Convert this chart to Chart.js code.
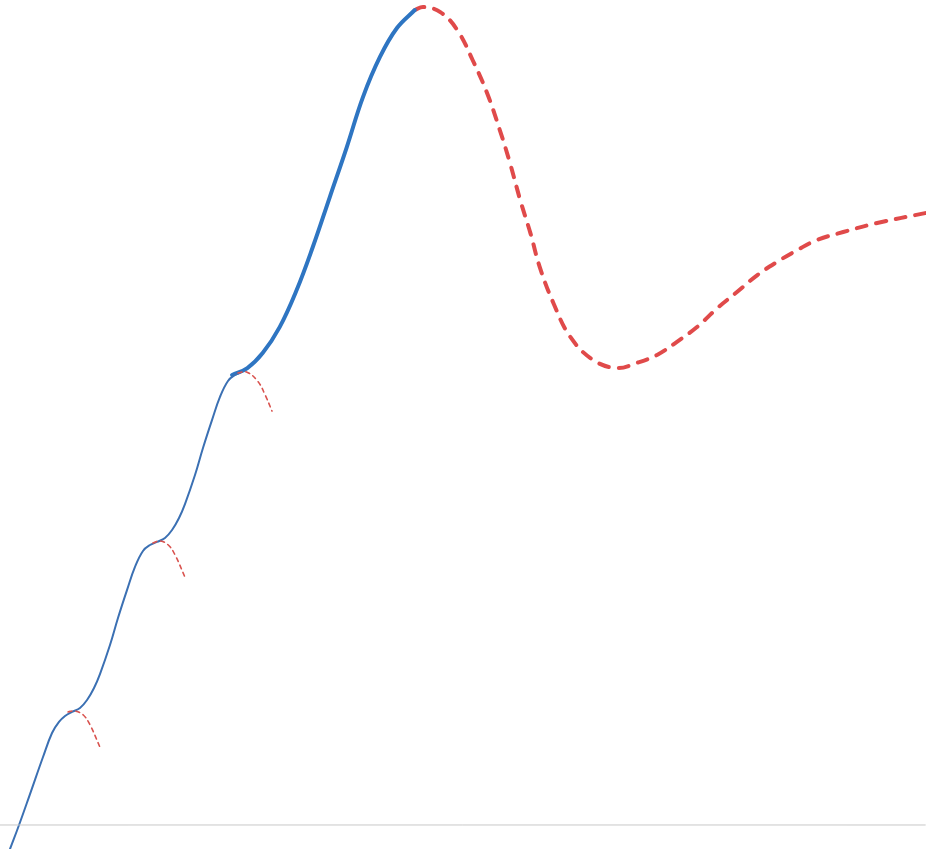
<!DOCTYPE html>
<html>
<head>
<meta charset="utf-8">
<script src="https://cdn.jsdelivr.net/npm/chart.js@4/dist/chart.umd.min.js"></script>
<style>
  html, body { margin: 0; padding: 0; background: #fff; }
  #wrap { width: 926px; height: 849px; }
</style>
</head>
<body>
<div id="wrap"><canvas id="curve-ch-art"></canvas></div>
<script>
// staircase climb (thin blue)
const stairX = [0.118, 0.224, 0.353, 0.506, 0.612, 0.694, 0.765, 0.847, 0.941, 1.024, 1.106, 1.176, 1.294, 1.388, 1.494, 1.588, 1.682, 1.765, 1.847, 1.941, 2.024, 2.106, 2.176, 2.294, 2.388, 2.494, 2.588, 2.682, 2.765, 2.847];
const stairY = [-0.141, 0, 0.182, 0.40, 0.541, 0.606, 0.641, 0.665, 0.688, 0.735, 0.806, 0.888, 1.059, 1.218, 1.382, 1.518, 1.612, 1.647, 1.665, 1.688, 1.735, 1.806, 1.888, 2.059, 2.218, 2.382, 2.518, 2.612, 2.647, 2.665];

// final climb (thick blue)
const climbX = [2.73, 2.91, 3.09, 3.29, 3.49, 3.68, 3.88, 4.08, 4.27, 4.47, 4.67, 4.88];
const climbY = [2.647, 2.688, 2.776, 2.929, 3.147, 3.40, 3.694, 3.988, 4.282, 4.518, 4.688, 4.794];

// overshoot and settle (thick red dashed)
const settleX = [4.88, 4.98, 5.18, 5.38, 5.56, 5.73, 5.88, 6.00, 6.12, 6.24, 6.35, 6.51, 6.71, 6.98, 7.26, 7.49, 7.73, 7.96, 8.20, 8.44, 8.67, 8.91, 9.14, 9.38, 9.61, 9.92, 10.32, 10.89];
const settleY = [4.794, 4.812, 4.782, 4.676, 4.50, 4.306, 4.088, 3.894, 3.676, 3.482, 3.282, 3.071, 2.871, 2.735, 2.688, 2.718, 2.765, 2.841, 2.929, 3.041, 3.135, 3.235, 3.312, 3.382, 3.441, 3.488, 3.541, 3.60];

// little drop-offs at each step (thin red dashed)
const dropX1 = [0.80, 0.88, 0.98, 1.06, 1.18];
const dropY1 = [0.665, 0.671, 0.647, 0.588, 0.453];
const dropX2 = [1.80, 1.88, 1.98, 2.06, 2.18];
const dropY2 = [1.659, 1.671, 1.647, 1.588, 1.453];
const dropX3 = [2.80, 2.90, 3.03, 3.12, 3.20];
const dropY3 = [2.659, 2.665, 2.612, 2.529, 2.435];

const baseX = [0, 10.89];
const baseY = [0, 0];

const pts = (xs, ys) => xs.map((x, i) => ({ x, y: ys[i] }));

const line = (xs, ys, color, width, dash) => ({
    data: pts(xs, ys),
    borderColor: color,
    borderWidth: width,
    borderDash: dash || [],
    borderCapStyle: 'round',
    tension: 0.4,
    pointRadius: 0,
    fill: false
});

new Chart(document.getElementById('curve-ch-art'), {
    type: 'line',
    data: {
        datasets: [
            { ...line(baseX, baseY, '#c8c8c8', 1), borderCapStyle: 'butt', tension: 0 },
            line(dropX1, dropY1, '#d9534f', 1.6, [4, 4]),
            line(dropX2, dropY2, '#d9534f', 1.6, [4, 4]),
            line(dropX3, dropY3, '#d9534f', 1.6, [4, 4]),
            line(stairX, stairY, '#3b70b3', 2),
            line(climbX, climbY, '#2e75c2', 4),
            line(settleX, settleY, '#e04a4a', 4, [10, 10])
        ]
    },
    options: {
        responsive: true,
        maintainAspectRatio: false,
        animation: false,
        layout: { padding: 0 },
        plugins: { legend: { display: false }, tooltip: { enabled: false } },
        scales: {
            x: { type: 'linear', display: false, min: 0, max: 10.894 },
            y: { type: 'linear', display: false, min: -0.1412, max: 4.853 }
        }
    }
});
</script>
</body>
</html>
